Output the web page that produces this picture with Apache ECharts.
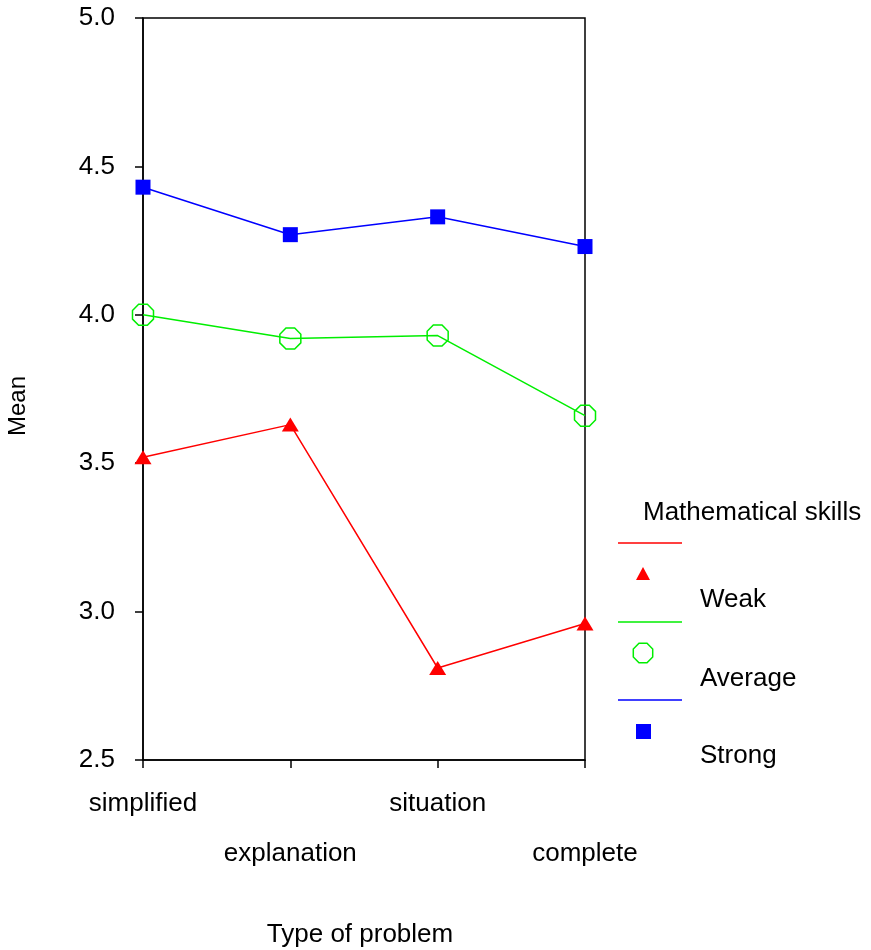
<!DOCTYPE html>
<html>
<head>
<meta charset="utf-8">
<script src="https://cdn.jsdelivr.net/npm/echarts@6/dist/echarts.min.js"></script>
<style>html,body{margin:0;padding:0;background:#fff;}#c{width:871px;height:950px;}</style>
</head>
<body>
<div id="c"></div>
<script>
var categories = ['simplified', 'explanation', 'situation', 'complete'];
var weak = [3.52, 3.63, 2.81, 2.96];
var average = [4.00, 3.92, 3.93, 3.66];
var strong = [4.43, 4.27, 4.33, 4.23];
var seriesNames = ['Weak', 'Average', 'Strong'];
var yTicks = ['2.5', '3.0', '3.5', '4.0', '4.5', '5.0'];
var legendTitle = 'Mathematical skills';
var xTitle = 'Type of problem';
var yTitle = 'Mean';

var FONT = 'Liberation Sans, Arial, sans-serif';
var colors = ['#ff0000', '#00ee00', '#0000ff'];
var octagon = 'path://M-0.383,-0.924L0.383,-0.924L0.924,-0.383L0.924,0.383L0.383,0.924L-0.383,0.924L-0.924,0.383L-0.924,-0.383Z';

function octPoints(cx, cy, r) {
  var pts = [];
  for (var k = 0; k < 8; k++) {
    var a = (22.5 + 45 * k) * Math.PI / 180;
    pts.push([cx + r * Math.cos(a), cy + r * Math.sin(a)]);
  }
  return pts;
}

var chart = echarts.init(document.getElementById('c'), null, {renderer: 'canvas'});

var legendGraphics = [
  {type: 'text', x: 643, y: 513, style: {text: legendTitle, font: '26px ' + FONT, fill: '#000', verticalAlign: 'middle'}}
];
var legendY = [543, 622, 700];
var labelY = [600, 679, 756];
for (var i = 0; i < 3; i++) {
  var ly = legendY[i];
  legendGraphics.push({type: 'line', shape: {x1: 618, y1: ly, x2: 682, y2: ly}, style: {stroke: colors[i], lineWidth: 1.5}});
  var my = ly + 31;
  if (i === 0) {
    legendGraphics.push({type: 'polygon', shape: {points: [[643, my - 7], [636, my + 6], [650, my + 6]]}, style: {fill: colors[0]}});
  } else if (i === 1) {
    legendGraphics.push({type: 'polygon', shape: {points: octPoints(643, my, 10.5)}, style: {fill: 'none', stroke: colors[1], lineWidth: 1.5}});
  } else {
    legendGraphics.push({type: 'rect', shape: {x: 636, y: my - 7, width: 15, height: 15}, style: {fill: colors[2]}});
  }
  legendGraphics.push({type: 'text', x: 700, y: labelY[i], style: {text: seriesNames[i], font: '26px ' + FONT, fill: '#000', verticalAlign: 'middle'}});
}

var option = {
  animation: false,
  backgroundColor: '#fff',
  grid: {left: 143, right: 286, top: 18, bottom: 190, show: true, borderColor: '#000', borderWidth: 1.5, containLabel: false},
  xAxis: {
    type: 'category',
    data: categories,
    boundaryGap: false,
    axisLine: {lineStyle: {color: '#000', width: 1.5}},
    axisTick: {alignWithLabel: true, length: 8, lineStyle: {color: '#000', width: 1.5}},
    axisLabel: {
      color: '#000', fontSize: 26, fontFamily: FONT, margin: 19, lineHeight: 50, interval: 0,
      formatter: function (v, idx) { return idx % 2 === 1 ? '\n' + v : v; }
    },
    splitLine: {show: false}
  },
  yAxis: {
    type: 'value',
    min: 2.5, max: 5.0, interval: 0.5,
    axisLine: {show: true, lineStyle: {color: '#000', width: 1.5}},
    axisTick: {show: true, length: 8, lineStyle: {color: '#000', width: 1.5}},
    axisLabel: {
      color: '#000', fontSize: 26, fontFamily: FONT, margin: 28,
      formatter: function (v) { var s = v.toFixed(1); return yTicks.indexOf(s) >= 0 ? s : ''; }
    },
    splitLine: {show: false}
  },
  series: [
    {name: seriesNames[0], type: 'line', data: weak, symbol: 'triangle', symbolSize: [17, 14],
     lineStyle: {color: colors[0], width: 1.5}, itemStyle: {color: colors[0]}},
    {name: seriesNames[1], type: 'line', data: average, symbol: octagon, symbolSize: 21,
     lineStyle: {color: colors[1], width: 1.5}, itemStyle: {color: 'rgba(0,0,0,0)', borderColor: colors[1], borderWidth: 1.5}},
    {name: seriesNames[2], type: 'line', data: strong, symbol: 'rect', symbolSize: 15,
     lineStyle: {color: colors[2], width: 1.5}, itemStyle: {color: colors[2]}}
  ],
  graphic: [
    {type: 'text', x: 18, y: 406, rotation: Math.PI / 2,
     style: {text: yTitle, font: '24px ' + FONT, fill: '#000', align: 'center', verticalAlign: 'middle'}},
    {type: 'text', x: 360, y: 935,
     style: {text: xTitle, font: '26px ' + FONT, fill: '#000', align: 'center', verticalAlign: 'middle'}}
  ].concat(legendGraphics)
};
chart.setOption(option);
</script>
</body>
</html>
